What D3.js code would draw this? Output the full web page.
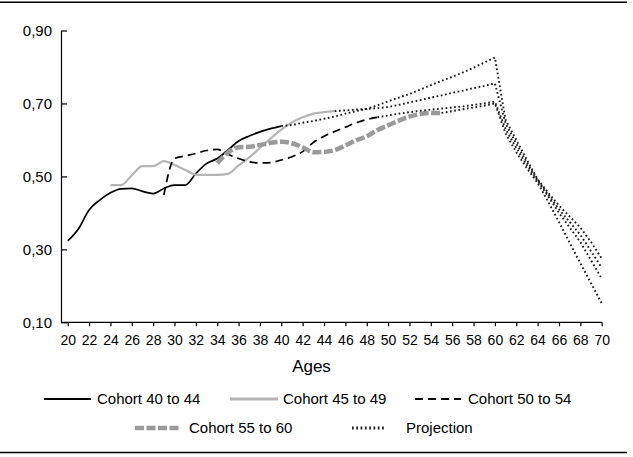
<!DOCTYPE html>
<html><head><meta charset="utf-8">
<script src="https://cdn.jsdelivr.net/npm/d3@7"></script>
<style>
html,body{margin:0;padding:0;background:#fff;}
svg{display:block;font-family:"Liberation Sans",Arial,sans-serif;}
</style>
</head><body>
<svg id="chart" width="633" height="457"></svg>
<script>
// ---------- data ----------
const xTickAges = [20,22,24,26,28,30,32,34,36,38,40,42,44,46,48,50,52,54,56,58,60,62,64,66,68,70];
const yTickValues = [0.10,0.30,0.50,0.70,0.90];
const axisTitle = "Ages";

const cohort4044Start = 20;
const cohort4044 = [0.323,0.356,0.408,0.435,0.455,0.466,0.467,0.459,0.453,0.467,0.476,0.476,0.508,0.535,0.549,0.572,0.597,0.611,0.622,0.631,0.638];

const cohort4549Start = 24;
const cohort4549 = [0.476,0.476,0.503,0.528,0.528,0.542,0.531,0.518,0.505,0.504,0.504,0.507,0.530,0.552,0.578,0.604,0.628,0.648,0.662,0.672,0.676,0.679];

const cohort5054Start = 29;
const cohort5054 = [0.449,0.549,0.556,0.563,0.571,0.574,0.561,0.549,0.540,0.537,0.538,0.545,0.554,0.568,0.593,0.610,0.623,0.635,0.647,0.656,0.662];

const cohort5560Start = 34;
const cohort5560 = [0.536,0.565,0.580,0.581,0.586,0.592,0.595,0.591,0.580,0.566,0.567,0.572,0.585,0.599,0.610,0.627,0.640,0.653,0.664,0.671,0.674,0.674];

const proj4044Start = 40;
const proj4044 = [0.638,0.641,0.647,0.652,0.658,0.664,0.672,0.679,0.685,0.695,0.706,0.716,0.726,0.738,0.750,0.762,0.773,0.785,0.798,0.812,0.826,0.655,0.600,0.545,0.492,0.455,0.420,0.390,0.360,0.320,0.275];

const proj4549Start = 45;
const proj4549 = [0.679,0.681,0.683,0.685,0.687,0.690,0.696,0.703,0.709,0.716,0.722,0.729,0.735,0.742,0.748,0.755,0.645,0.590,0.538,0.490,0.450,0.410,0.375,0.340,0.295,0.250];

const proj5054Start = 49;
const proj5054 = [0.662,0.667,0.672,0.676,0.680,0.683,0.686,0.689,0.692,0.696,0.700,0.705,0.630,0.578,0.530,0.487,0.445,0.400,0.360,0.320,0.270,0.220];

const proj5560Start = 55;
const proj5560 = [0.674,0.679,0.684,0.689,0.694,0.700,0.618,0.566,0.522,0.482,0.430,0.375,0.318,0.262,0.207,0.152];

const legendLabels = ["Cohort 40 to 44","Cohort 45 to 49","Cohort 50 to 54","Cohort 55 to 60","Projection"];

// ---------- layout & styles ----------
const svg = d3.select("#chart");
const x = d3.scaleLinear().domain([20,70]).range([67.7,601.7]);
const y = d3.scaleLinear().domain([0.10,0.90]).range([322.3,30.5]);
const axisLeftX = 61;

const styles = {
  c4044: {stroke:"#000", width:1.7, dash:null},
  c4549: {stroke:"#b5b5b5", width:2.2, dash:null},
  c5054: {stroke:"#000", width:1.7, dash:"8,5"},
  c5560: {stroke:"#9a9a9a", width:4.5, dash:"9,2.5"},
  proj:  {stroke:"#1a1a1a", width:1.9, dash:"1.7,2.6"}
};

const toPts = (start, vals) => vals.map((v,i) => ({age:start+i, v}));

// frame lines
svg.append("line").attr("x1",0).attr("x2",627).attr("y1",2.2).attr("y2",2.2)
  .attr("stroke","#000").attr("stroke-width",1.5);
svg.append("line").attr("x1",0).attr("x2",627).attr("y1",452.5).attr("y2",452.5)
  .attr("stroke","#000").attr("stroke-width",1.5);

// axes
const fmt = d3.formatLocale({decimal:",",thousands:".",grouping:[3],currency:["",""]}).format(".2f");
const yAxis = d3.axisLeft(y).tickValues(yTickValues).tickFormat(fmt)
  .tickSizeInner(-6).tickSizeOuter(0).tickPadding(9);
const gy = svg.append("g").attr("transform",`translate(${axisLeftX},0)`).call(yAxis);
gy.selectAll("text").attr("font-size",15).attr("fill","#000").attr("font-family","Liberation Sans, Arial, sans-serif");
gy.selectAll("line,path").attr("stroke","#000").attr("stroke-width",1.2);

const xAxis = d3.axisBottom(x).tickValues(xTickAges).tickFormat(d => d)
  .tickSizeInner(4).tickSizeOuter(0).tickPadding(8.5);
const gx = svg.append("g").attr("transform",`translate(0,${y(0.10)})`).call(xAxis);
gx.select(".domain").remove();
gx.selectAll("text").attr("font-size",14).attr("fill","#000").attr("font-family","Liberation Sans, Arial, sans-serif");
gx.selectAll("line").attr("stroke","#000").attr("stroke-width",1.2);
svg.append("line").attr("x1",axisLeftX).attr("x2",602).attr("y1",y(0.10)).attr("y2",y(0.10))
  .attr("stroke","#000").attr("stroke-width",1.2);

svg.append("text").attr("x",311.5).attr("y",366).attr("dy","0.35em")
  .attr("text-anchor","middle").attr("font-size",17).attr("fill","#000").text(axisTitle);

// lines
const smooth = d3.line().x(d => x(d.age)).y(d => y(d.v)).curve(d3.curveMonotoneX);
const straight = d3.line().x(d => x(d.age)).y(d => y(d.v));

function draw(pts, st, gen){
  svg.append("path").attr("d", gen(pts)).attr("fill","none")
    .attr("stroke", st.stroke).attr("stroke-width", st.width)
    .attr("stroke-dasharray", st.dash).attr("stroke-linejoin","round");
}
draw(toPts(cohort4044Start, cohort4044), styles.c4044, smooth);
draw(toPts(cohort4549Start, cohort4549), styles.c4549, smooth);
draw(toPts(cohort5054Start, cohort5054), styles.c5054, smooth);
draw(toPts(cohort5560Start, cohort5560), styles.c5560, smooth);
draw(toPts(proj4044Start, proj4044), styles.proj, straight);
draw(toPts(proj4549Start, proj4549), styles.proj, straight);
draw(toPts(proj5054Start, proj5054), styles.proj, straight);
draw(toPts(proj5560Start, proj5560), styles.proj, straight);

// legend
const legendKeys = [
  {x1:44,x2:91,tx:97,y:399,st:styles.c4044,w:1.8},
  {x1:230,x2:278,tx:283,y:399,st:styles.c4549,w:3},
  {x1:415,x2:461,tx:468,y:399,st:styles.c5054,w:1.8},
  {x1:135,x2:181,tx:189,y:428,st:styles.c5560,w:4.5},
  {x1:352,x2:386,tx:406,y:428,st:styles.proj,w:3}
];
const lg = svg.append("g").selectAll("g").data(legendLabels).join("g");
lg.append("line")
  .attr("x1",(d,i)=>legendKeys[i].x1).attr("x2",(d,i)=>legendKeys[i].x2)
  .attr("y1",(d,i)=>legendKeys[i].y).attr("y2",(d,i)=>legendKeys[i].y)
  .attr("stroke",(d,i)=>legendKeys[i].st.stroke)
  .attr("stroke-width",(d,i)=>legendKeys[i].w)
  .attr("stroke-dasharray",(d,i)=>legendKeys[i].st.dash);
lg.append("text")
  .attr("x",(d,i)=>legendKeys[i].tx).attr("y",(d,i)=>legendKeys[i].y).attr("dy","0.35em")
  .attr("font-size",15).attr("fill","#000").text(d=>d);
</script>
</body></html>
